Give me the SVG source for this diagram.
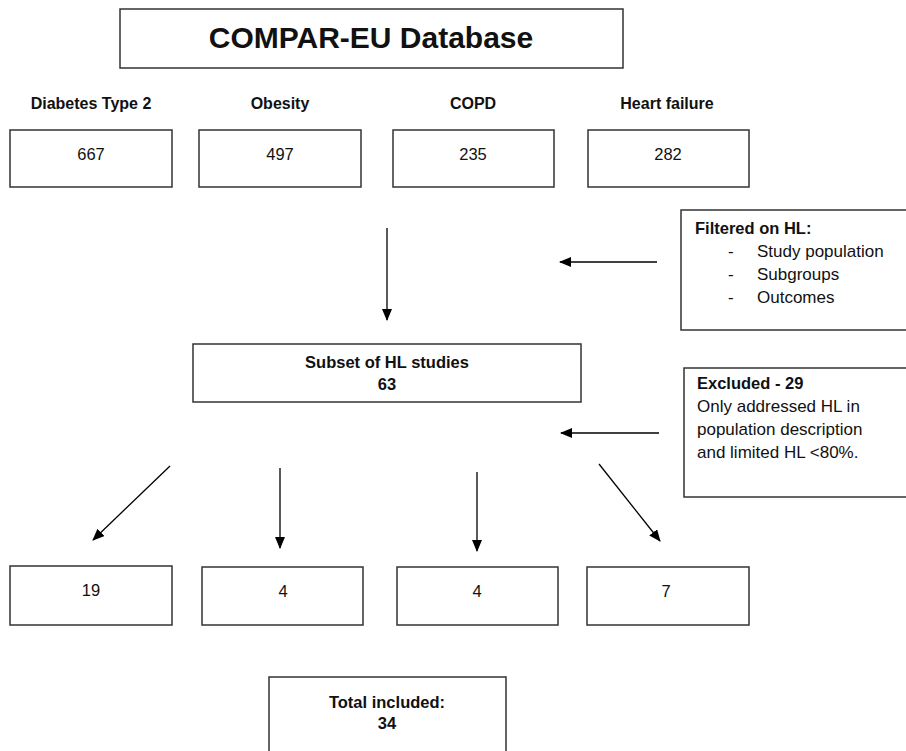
<svg xmlns="http://www.w3.org/2000/svg" width="906" height="751" viewBox="0 0 906 751">
<defs>
<marker id="ah" markerUnits="userSpaceOnUse" markerWidth="12" markerHeight="10" refX="11" refY="5" orient="auto">
<path d="M0,0 L12,5 L0,10 Z" fill="#000"/>
</marker>
<style>
.box{fill:#fff;stroke:#333;stroke-width:1.5}
.t{font-family:"Liberation Sans",Arial,sans-serif;fill:#111}
.num{font-size:16.5px;text-anchor:middle}
.hd{font-size:16px;font-weight:bold;text-anchor:middle}
.b{font-size:16.5px;font-weight:bold}
.r{font-size:17px}
.c{text-anchor:middle}
.ar{stroke:#000;stroke-width:1.3;fill:none;marker-end:url(#ah)}
</style>
</defs>
<rect width="906" height="751" fill="#fff"/>
<g id="title">
<rect class="box" x="120" y="9" width="503" height="59"/>
<text class="t" x="371" y="48" font-size="30" font-weight="bold" text-anchor="middle">COMPAR-EU Database</text>
</g>
<g id="headers">
<text class="t hd" x="91" y="109">Diabetes Type 2</text>
<text class="t hd" x="280" y="109">Obesity</text>
<text class="t hd" x="473" y="109">COPD</text>
<text class="t hd" x="667" y="109">Heart failure</text>
</g>
<g id="n667"><rect class="box" x="10" y="130" width="162" height="57"/><text class="t num" x="91" y="160">667</text></g>
<g id="n497"><rect class="box" x="199" y="130" width="162" height="57"/><text class="t num" x="280" y="160">497</text></g>
<g id="n235"><rect class="box" x="393" y="130" width="161" height="57"/><text class="t num" x="473" y="160">235</text></g>
<g id="n282"><rect class="box" x="588" y="130" width="161" height="57"/><text class="t num" x="668" y="160">282</text></g>
<g id="filter">
<rect class="box" x="681" y="210" width="226" height="120"/>
<text class="t b" x="695" y="234">Filtered on HL:</text>
<text class="t r" x="728" y="257">-</text><text class="t r" x="757" y="257">Study population</text>
<text class="t r" x="728" y="280">-</text><text class="t r" x="757" y="280">Subgroups</text>
<text class="t r" x="728" y="303">-</text><text class="t r" x="757" y="303">Outcomes</text>
</g>
<g id="subset">
<rect class="box" x="193" y="344" width="388" height="58"/>
<text class="t b c" x="387" y="368">Subset of HL studies</text>
<text class="t b c" x="387" y="390">63</text>
</g>
<g id="excluded">
<rect class="box" x="684" y="368" width="223" height="129"/>
<text class="t b" x="697" y="389">Excluded - 29</text>
<text class="t r" x="697" y="412">Only addressed HL in</text>
<text class="t r" x="697" y="435">population description</text>
<text class="t r" x="697" y="458">and limited HL &lt;80%.</text>
</g>
<g id="n19"><rect class="box" x="10" y="566" width="162" height="59"/><text class="t num" x="91" y="596">19</text></g>
<g id="n4a"><rect class="box" x="202" y="567" width="161" height="58"/><text class="t num" x="283" y="597">4</text></g>
<g id="n4b"><rect class="box" x="397" y="567" width="161" height="58"/><text class="t num" x="477" y="597">4</text></g>
<g id="n7"><rect class="box" x="587" y="567" width="162" height="58"/><text class="t num" x="666" y="597">7</text></g>
<g id="total">
<rect class="box" x="269" y="677" width="237" height="80"/>
<text class="t b c" x="387" y="708">Total included:</text>
<text class="t b c" x="387" y="729">34</text>
</g>
<g id="connectors">
<line class="ar" x1="387" y1="228" x2="387" y2="320"/>
<line class="ar" x1="657" y1="262" x2="560" y2="262"/>
<line class="ar" x1="659" y1="433" x2="561" y2="433"/>
<line class="ar" x1="170" y1="466" x2="93" y2="540"/>
<line class="ar" x1="280" y1="468" x2="280" y2="548"/>
<line class="ar" x1="477" y1="472" x2="477" y2="551"/>
<line class="ar" x1="599" y1="464" x2="660" y2="541"/>
</g>
</svg>
